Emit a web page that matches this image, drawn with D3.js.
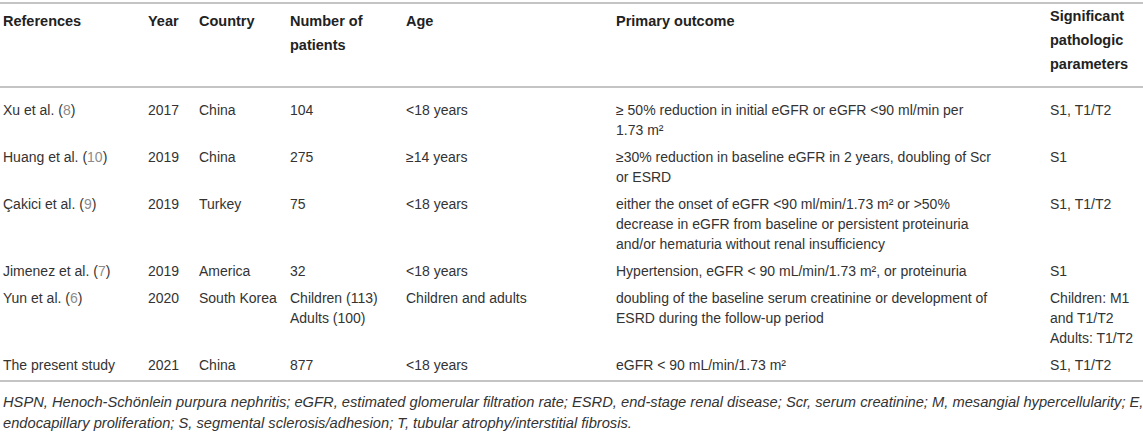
<!DOCTYPE html>
<html>
<head>
<meta charset="utf-8">
<script src="https://cdn.jsdelivr.net/npm/d3@7"></script>
<style>
  html, body { margin: 0; padding: 0; background: #fff; }
  svg { display: block; }
</style>
</head>
<body>
<svg id="chart" width="1143" height="438"></svg>
<script>
// ---------- DATA ----------
const headers = [
  ["References"],
  ["Year"],
  ["Country"],
  ["Number of", "patients"],
  ["Age"],
  ["Primary outcome"],
  ["Significant", "pathologic", "parameters"]
];
const refNames = ["Xu et al.", "Huang et al.", "Çakici et al.", "Jimenez et al.", "Yun et al.", "The present study"];
const refNums = ["8", "10", "9", "7", "6", ""];
const years = ["2017", "2019", "2019", "2019", "2020", "2021"];
const countries = ["China", "China", "Turkey", "America", "South Korea", "China"];
const patients = [["104"], ["275"], ["75"], ["32"], ["Children (113)", "Adults (100)"], ["877"]];
const ages = ["<18 years", "≥14 years", "<18 years", "<18 years", "Children and adults", "<18 years"];
const outcomes = [
  ["≥ 50% reduction in initial eGFR or eGFR <90 ml/min per", "1.73 m²"],
  ["≥30% reduction in baseline eGFR in 2 years, doubling of Scr", "or ESRD"],
  ["either the onset of eGFR <90 ml/min/1.73 m² or >50%", "decrease in eGFR from baseline or persistent proteinuria", "and/or hematuria without renal insufficiency"],
  ["Hypertension, eGFR < 90 mL/min/1.73 m², or proteinuria"],
  ["doubling of the baseline serum creatinine or development of", "ESRD during the follow-up period"],
  ["eGFR < 90 mL/min/1.73 m²"]
];
const params = [
  ["S1, T1/T2"],
  ["S1"],
  ["S1, T1/T2"],
  ["S1"],
  ["Children: M1", "and T1/T2", "Adults: T1/T2"],
  ["S1, T1/T2"]
];
const footnote = [
  "HSPN, Henoch-Schönlein purpura nephritis; eGFR, estimated glomerular filtration rate; ESRD, end-stage renal disease; Scr, serum creatinine; M, mesangial hypercellularity; E,",
  "endocapillary proliferation; S, segmental sclerosis/adhesion; T, tubular atrophy/interstitial fibrosis."
];

// ---------- LAYOUT ----------
const W = 1143;
const colX = d3.scaleOrdinal().domain(d3.range(7)).range([3, 148, 199, 290, 406, 616, 1050]);
const headTop = d3.scaleOrdinal().domain(d3.range(7)).range([21, 21, 21, 21, 21, 21, 16]);
const font = "'Liberation Sans', Arial, Helvetica, sans-serif";
const textColor = "#333";
const ruleColor = "#c4c4c4";
const lineH = 20, headLineH = 24, rowPad = 7;
const bodyFirstY = 110;
const bodySize = 14, headSize = 14.5, footSize = 14.7;

const svg = d3.select("#chart");

// Rules
const rules = [3, 87];
svg.selectAll("line.rule").data(rules).join("line")
  .attr("class", "rule")
  .attr("x1", 0).attr("x2", W)
  .attr("y1", d => d).attr("y2", d => d)
  .attr("stroke", ruleColor).attr("stroke-width", 2);

// Header
const hg = svg.append("g");
headers.forEach((lines, c) => {
  hg.append("g").selectAll("text").data(lines).join("text")
    .attr("x", colX(c))
    .attr("y", (d, i) => headTop(c) + i * headLineH)
    .attr("dy", "0.35em")
    .attr("font-family", font)
    .attr("font-size", headSize)
    .attr("font-weight", "bold")
    .attr("fill", "#222")
    .text(d => d);
});

// Body rows
const rowCells = refNames.map((n, r) => [
  [n], [years[r]], [countries[r]], patients[r], [ages[r]], outcomes[r], params[r]
]);
const rowLines = rowCells.map(cells => d3.max(cells, c => c.length));
const rowY = [bodyFirstY].concat(Array.from(d3.cumsum(rowLines, n => n * lineH + rowPad), v => bodyFirstY + v));

const bg = svg.append("g");
rowCells.forEach((cells, r) => {
  cells.forEach((lines, c) => {
    const t = bg.append("g").selectAll("text").data(lines).join("text")
      .attr("x", colX(c))
      .attr("y", (d, i) => rowY[r] + i * lineH)
      .attr("dy", "0.35em")
      .attr("font-family", font)
      .attr("font-size", bodySize)
      .attr("fill", textColor);
    if (c === 0) {
      t.each(function(d) {
        const el = d3.select(this);
        el.append("tspan").text(d);
        if (refNums[r]) {
          el.append("tspan").text(" (");
          el.append("tspan").attr("fill", "#8c8c8c").text(refNums[r]);
          el.append("tspan").text(")");
        }
      });
    } else {
      t.text(d => d);
    }
  });
});

// Bottom rule
const bottomY = rowY[rowY.length - 2] + 16;
svg.append("line")
  .attr("x1", 0).attr("x2", W)
  .attr("y1", bottomY).attr("y2", bottomY)
  .attr("stroke", ruleColor).attr("stroke-width", 2);

// Footnote
svg.append("g").selectAll("text").data(footnote).join("text")
  .attr("x", 3)
  .attr("y", (d, i) => bottomY + 21 + i * 21)
  .attr("dy", "0.35em")
  .attr("font-family", font)
  .attr("font-size", footSize)
  .attr("font-style", "italic")
  .attr("fill", textColor)
  .text(d => d);
</script>
</body>
</html>
